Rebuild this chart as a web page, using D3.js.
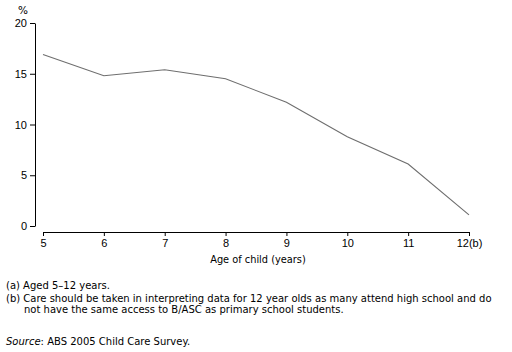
<!DOCTYPE html>
<html>
<head>
<meta charset="utf-8">
<script src="https://cdn.jsdelivr.net/npm/d3@7"></script>
<style>
  body { margin: 0; background: #fff; }
  svg { display: block; font-family: "DejaVu Sans", Verdana, sans-serif; }
</style>
</head>
<body>
<svg width="512" height="352"></svg>
<script>
const ages = [5, 6, 7, 8, 9, 10, 11, 12];
const ageLabels = ["5", "6", "7", "8", "9", "10", "11", "12(b)"];
const percents = [16.9, 14.8, 15.4, 14.5, 12.2, 8.8, 6.1, 1.1];
const yTicks = [0, 5, 10, 15, 20];

const footnotes = [
  { text: "(a) Aged 5\u201312 years.", x: 6, y: 289 },
  { text: "(b) Care should be taken in interpreting data for 12 year olds as many attend high school and do", x: 6, y: 302 },
  { text: "not have the same access to B/ASC as primary school students.", x: 24, y: 313 },
];

const svg = d3.select("svg");

let x = d3.scaleLinear().domain([5, 12]).range([43, 469]);
let y = d3.scaleLinear().domain([0, 20]).range([226, 23]);

// y axis
let yAxis = svg.append("g")
  .attr("transform", "translate(35,0)")
  .call(d3.axisLeft(y).tickValues(yTicks).tickSize(5).tickPadding(3).tickSizeOuter(0));
yAxis.select(".domain").attr("stroke", "#000");
yAxis.selectAll("line").attr("stroke", "#000");
yAxis.selectAll("text").attr("font-size", 11).attr("fill", "#000");

// x axis
let xAxis = svg.append("g")
  .attr("transform", "translate(0,232)")
  .call(d3.axisBottom(x).tickValues(ages).tickFormat((d, i) => ageLabels[i])
    .tickSize(4).tickPadding(3).tickSizeOuter(0));
xAxis.select(".domain").attr("stroke", "#000");
xAxis.selectAll("line").attr("stroke", "#000");
xAxis.selectAll("text").attr("font-size", 11).attr("fill", "#000");

svg.append("text")
  .attr("x", 23).attr("y", 14)
  .attr("text-anchor", "middle")
  .attr("font-size", 10.5)
  .text("%");

let line = d3.line()
  .x((d, i) => x(ages[i]))
  .y((d) => y(d));

svg.append("path")
  .datum(percents)
  .attr("fill", "none")
  .attr("stroke", "#6e6e6e")
  .attr("stroke-width", 1.1)
  .attr("d", line);

svg.append("text")
  .attr("x", 258).attr("y", 263)
  .attr("text-anchor", "middle")
  .attr("font-size", 9.8)
  .text("Age of child (years)");

svg.selectAll(".note")
  .data(footnotes)
  .enter()
  .append("text")
  .classed("note", true)
  .attr("x", (d) => d.x)
  .attr("y", (d) => d.y)
  .attr("font-size", 10)
  .text((d) => d.text);

let src = svg.append("text")
  .attr("x", 6).attr("y", 345)
  .attr("font-size", 10);
src.append("tspan").attr("font-style", "italic").text("Source");
src.append("tspan").text(": ABS 2005 Child Care Survey.");
</script>
</body>
</html>
